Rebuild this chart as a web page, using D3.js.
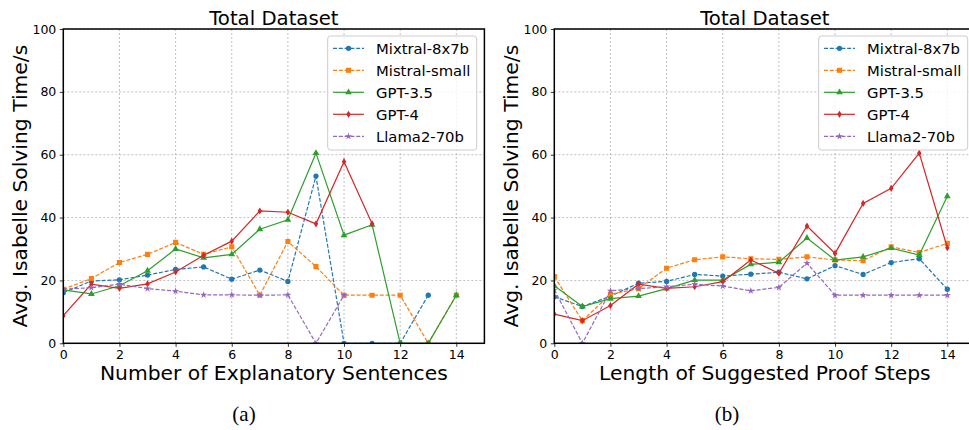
<!DOCTYPE html>
<html>
<head>
<meta charset="utf-8">
<script src="https://cdn.jsdelivr.net/npm/d3@7"></script>
<style>
  body { margin: 0; background: #fff; }
  svg { display: block; font-family: "DejaVu Sans", sans-serif; }
</style>
</head>
<body>
<svg id="chart" width="969" height="430"></svg>
<script>
// x positions shared by both panels
var steps = d3.range(0, 15);
var xTicks = [0, 2, 4, 6, 8, 10, 12, 14];
var yTicks = [0, 20, 40, 60, 80, 100];

var models = ["Mixtral-8x7b", "Mistral-small", "GPT-3.5", "GPT-4", "Llama2-70b"];
var colors = ["#1f77b4", "#ff7f0e", "#2ca02c", "#d62728", "#9467bd"];
var dashed = [true, true, false, false, true];

// (a) number of explanatory sentences  (null = no point)
var sentMixtral = [16.1, 19.8, 20.2, 21.7, 23.5, 24.3, 20.4, 23.3, 19.7, 53.2, 0, 0, 0, 15.3, null];
var sentMistral = [17.2, 20.6, 25.7, 28.3, 32.1, 28.3, 30.7, 15.3, 32.4, 24.4, 15.3, 15.3, 15.3, 0, 15.3];
var sentGpt35   = [17.0, 15.7, 18.3, 23.1, 30.0, 27.2, 28.3, 36.3, 39.3, 60.5, 34.4, 37.7, 0, 0, 15.3];
var sentGpt4    = [8.8, 18.8, 17.5, 18.9, 22.7, 28.0, 32.5, 42.1, 41.7, 38.0, 57.8, 38.0, null, null, null];
var sentLlama   = [17.2, 17.7, 18.8, 17.4, 16.6, 15.4, 15.4, 15.3, 15.4, 0, 15.3, null, null, null, null];

// (b) length of suggested proof steps
var stepMixtral = [14.8, 11.7, 15.0, 19.1, 19.7, 21.9, 21.4, 22.0, 22.6, 20.5, 24.7, 21.9, 25.7, 26.9, 17.2];
var stepMistral = [21.2, 7.2, 15.6, 17.4, 23.9, 26.6, 27.5, 26.9, 26.7, 27.5, 26.5, 26.3, 30.7, 28.9, 31.8];
var stepGpt35   = [18.3, 11.7, 14.2, 15.0, 17.4, 20.1, 20.1, 25.1, 25.8, 33.5, 26.5, 27.5, 30.3, 28.1, 46.8];
var stepGpt4    = [9.3, 7.2, 12.0, 18.8, 17.5, 18.0, 19.6, 26.5, 22.3, 37.3, 28.6, 44.5, 49.3, 60.5, 30.4];
var stepLlama   = [17.0, 0, 16.7, 17.4, 18.0, 18.8, 18.2, 16.7, 17.8, 25.5, 15.3, 15.3, 15.3, 15.3, 15.3];

var svg = d3.select("#chart");

// thin diamond for GPT-4
var thinDiamond = { draw: function (ctx, size) {
  var h = Math.sqrt(size) * 0.8, w = h * 0.62;
  ctx.moveTo(0, -h); ctx.lineTo(w, 0); ctx.lineTo(0, h); ctx.lineTo(-w, 0); ctx.closePath();
}};
var markers = [
  d3.symbol(d3.symbolCircle, 22),
  d3.symbol(d3.symbolSquare, 26),
  d3.symbol(d3.symbolTriangle, 20),
  d3.symbol(thinDiamond, 20),
  d3.symbol(d3.symbolStar, 16)
];

function panel(id, left, title, xlabel, caption, series) {
  var top = 29, bottom = 343.3, w = 421.1;
  var x = d3.scaleLinear().domain([0, 15]).range([left, left + w]);
  var y = d3.scaleLinear().domain([0, 100]).range([bottom, top]);
  var g = svg.append("g");

  g.append("clipPath").attr("id", "clip" + id)
    .append("rect").attr("x", left).attr("y", top).attr("width", w).attr("height", bottom - top);

  // grid
  g.append("g").selectAll("line").data(xTicks).join("line")
    .attr("x1", d => x(d)).attr("x2", d => x(d)).attr("y1", top).attr("y2", bottom)
    .attr("stroke", "#b0b0b0").attr("stroke-width", 0.8).attr("stroke-dasharray", "2,2");
  g.append("g").selectAll("line").data(yTicks).join("line")
    .attr("x1", left).attr("x2", left + w).attr("y1", d => y(d)).attr("y2", d => y(d))
    .attr("stroke", "#b0b0b0").attr("stroke-width", 0.8).attr("stroke-dasharray", "2,2");

  // series
  var plot = g.append("g").attr("clip-path", "url(#clip" + id + ")");
  var line = d3.line().defined(d => d != null).x((d, i) => x(steps[i])).y(d => y(d));
  series.forEach(function (vals, k) {
    plot.append("path").datum(vals)
      .attr("d", line).attr("fill", "none")
      .attr("stroke", colors[k]).attr("stroke-width", 1.2)
      .attr("stroke-dasharray", dashed[k] ? "4,1.8" : null);
    plot.append("g").selectAll("path")
      .data(vals.map((v, i) => [steps[i], v]).filter(p => p[1] != null))
      .join("path")
      .attr("transform", p => "translate(" + x(p[0]) + "," + y(p[1]) + ")")
      .attr("d", markers[k]).attr("fill", colors[k]);
  });

  // axes
  var xa = g.append("g").attr("transform", "translate(0," + bottom + ")")
    .call(d3.axisBottom(x).tickValues(xTicks).tickSize(3.5).tickPadding(3.5));
  var ya = g.append("g").attr("transform", "translate(" + left + ",0)")
    .call(d3.axisLeft(y).tickValues(yTicks).tickSize(3.5).tickPadding(3.5));
  [xa, ya].forEach(function (a) {
    a.select(".domain").remove();
    a.selectAll("text").attr("font-size", "12.5px").attr("font-family", "DejaVu Sans").attr("fill", "#000");
    a.selectAll("line").attr("stroke", "#000").attr("stroke-width", 0.8);
  });
  g.append("rect").attr("x", left).attr("y", top).attr("width", w).attr("height", bottom - top)
    .attr("fill", "none").attr("stroke", "#000").attr("stroke-width", 1.5);

  // legend
  var lx = left + w - 156.7, ly = 36;
  var lg = g.append("g");
  lg.append("rect").attr("x", lx).attr("y", ly).attr("width", 149).attr("height", 114)
    .attr("rx", 3).attr("fill", "#fff").attr("fill-opacity", 0.8)
    .attr("stroke", "#cccccc").attr("stroke-width", 1);
  models.forEach(function (m, k) {
    var yy = ly + 12.3 + 22 * k;
    lg.append("line").attr("x1", lx + 5.3).attr("x2", lx + 36.3).attr("y1", yy).attr("y2", yy)
      .attr("stroke", colors[k]).attr("stroke-width", 1.2)
      .attr("stroke-dasharray", dashed[k] ? "4,1.8" : null);
    lg.append("path").attr("transform", "translate(" + (lx + 20.8) + "," + yy + ")")
      .attr("d", markers[k]).attr("fill", colors[k]);
    lg.append("text").attr("x", lx + 48.3).attr("y", yy).attr("dy", "0.36em")
      .attr("font-size", "14.8px").text(m);
  });

  // texts
  g.append("text").attr("x", left + w / 2).attr("y", 24.5).attr("text-anchor", "middle")
    .attr("font-size", "19.7px").text(title);
  g.append("text").attr("x", left + w / 2).attr("y", 380).attr("text-anchor", "middle")
    .attr("font-size", "20.3px").text(xlabel);
  g.append("text").attr("transform", "translate(" + (left - 36.8) + "," + ((top + bottom) / 2) + ") rotate(-90)")
    .attr("text-anchor", "middle").attr("font-size", "20.3px").text("Avg. Isabelle Solving Time/s");
  g.append("text").attr("x", caption[1]).attr("y", 421).attr("text-anchor", "middle")
    .attr("font-family", "Liberation Serif, serif").attr("font-size", "21px").text(caption[0]);
}

panel("a", 63.3, "Total Dataset", "Number of Explanatory Sentences", ["(a)", 244],
  [sentMixtral, sentMistral, sentGpt35, sentGpt4, sentLlama]);
panel("b", 554.3, "Total Dataset", "Length of Suggested Proof Steps", ["(b)", 727],
  [stepMixtral, stepMistral, stepGpt35, stepGpt4, stepLlama]);
</script>
</body>
</html>
